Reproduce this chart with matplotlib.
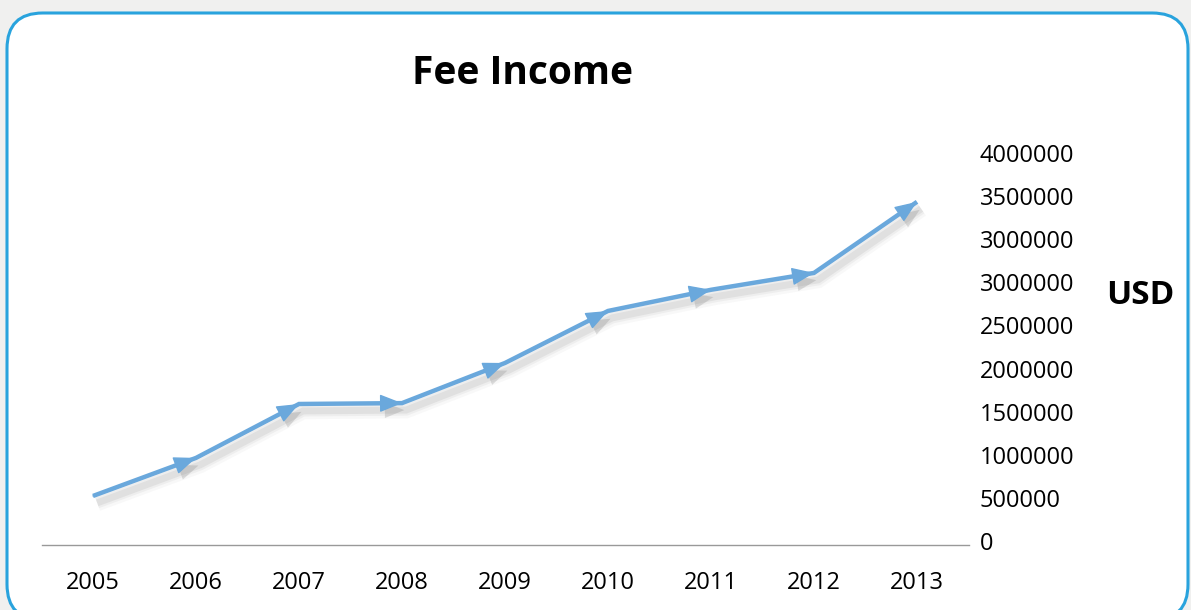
import matplotlib
matplotlib.use("Agg")
import matplotlib.pyplot as plt
import matplotlib.patheffects as pe
import matplotlib.transforms as mtransforms
from matplotlib.patches import FancyBboxPatch

plt.rcParams['font.family'] = ['Open Sans', 'DejaVu Sans']

# data
years = ['2005', '2006', '2007', '2008', '2009', '2010', '2011', '2012', '2013']
fee_income = [512000, 909000, 1472000, 1481000, 1900000, 2443000, 2664000, 2840000, 3582000]

# the y axis steps by 450000 but the labels are printed as in the source
ytick_values = [0, 450000, 900000, 1350000, 1800000, 2250000, 2700000, 3150000, 3600000, 4050000]
ytick_labels = ['0', '500000', '1000000', '1500000', '2000000', '2500000',
                '3000000', '3000000', '3500000', '4000000']

line_color = '#6aa8dc'

fig = plt.figure(figsize=(11.91, 6.10), dpi=100)
fig.patch.set_facecolor('#f0f0ef')

# rounded white card with blue border
card = FancyBboxPatch((7 / 1191, -10 / 610), 1181 / 1191, 607 / 610,
                      boxstyle='round,pad=0,rounding_size=0.03',
                      transform=fig.transFigure, facecolor='white',
                      edgecolor='#29a3dd', linewidth=2.2, mutation_aspect=1191 / 610,
                      zorder=-5)
fig.patches.append(card)

ax = fig.add_axes([41.5 / 1191, 65 / 610, 927 / 1191, 388 / 610])
ax.set_facecolor('none')
ax.set_zorder(2)
ax.set_xlim(-0.5, len(years) - 0.5)
ax.set_ylim(0, 4050000)

for s in ['top', 'left', 'right']:
    ax.spines[s].set_visible(False)
ax.spines['bottom'].set_color('#999999')
ax.spines['bottom'].set_linewidth(1)

ax.set_xticks(range(len(years)))
ax.set_xticklabels(years, fontsize=17)
ax.yaxis.tick_right()
ax.set_yticks(ytick_values)
ax.set_yticklabels(ytick_labels, fontsize=17)
ax.tick_params(axis='y', length=0, pad=8)
ax.tick_params(axis='x', length=0, pad=19)
# y labels sit a little above their gridline in the source
up = mtransforms.ScaledTranslation(0, 4 / 100, fig.dpi_scale_trans)
for lab in ax.get_yticklabels():
    lab.set_transform(lab.get_transform() + up)

# soft shadow: a few wide, faint strokes
soft = [pe.SimpleLineShadow(offset=(3, -5), shadow_color='#555555', alpha=0.04, linewidth=12),
        pe.SimpleLineShadow(offset=(3, -5), shadow_color='#555555', alpha=0.06, linewidth=8),
        pe.SimpleLineShadow(offset=(3, -5), shadow_color='#555555', alpha=0.09, linewidth=5),
        pe.Normal()]
ax.plot(range(len(years)), fee_income, color=line_color, lw=3.2,
        solid_joinstyle='miter', solid_capstyle='butt', zorder=3, path_effects=soft)

head_shadow = [pe.SimplePatchShadow(offset=(3, -5), shadow_rgbFace='#666666', alpha=0.2), pe.Normal()]
for i in range(len(years) - 1):
    ax.annotate('', xy=(i + 1, fee_income[i + 1]), xytext=(i, fee_income[i]),
                arrowprops=dict(arrowstyle='-|>,head_length=0.7,head_width=0.28',
                                color=line_color, lw=1, shrinkA=0, shrinkB=0,
                                mutation_scale=20, path_effects=head_shadow),
                zorder=4)

fig.text(523 / 1191, 1 - 73 / 610, 'Fee Income', fontsize=28, fontweight='bold',
         ha='center', va='center')
fig.text(1140 / 1191, 1 - 296 / 610, 'USD', fontsize=24, fontweight='bold',
         ha='center', va='center')

fig.savefig('out.png', dpi=100, facecolor=fig.get_facecolor())
